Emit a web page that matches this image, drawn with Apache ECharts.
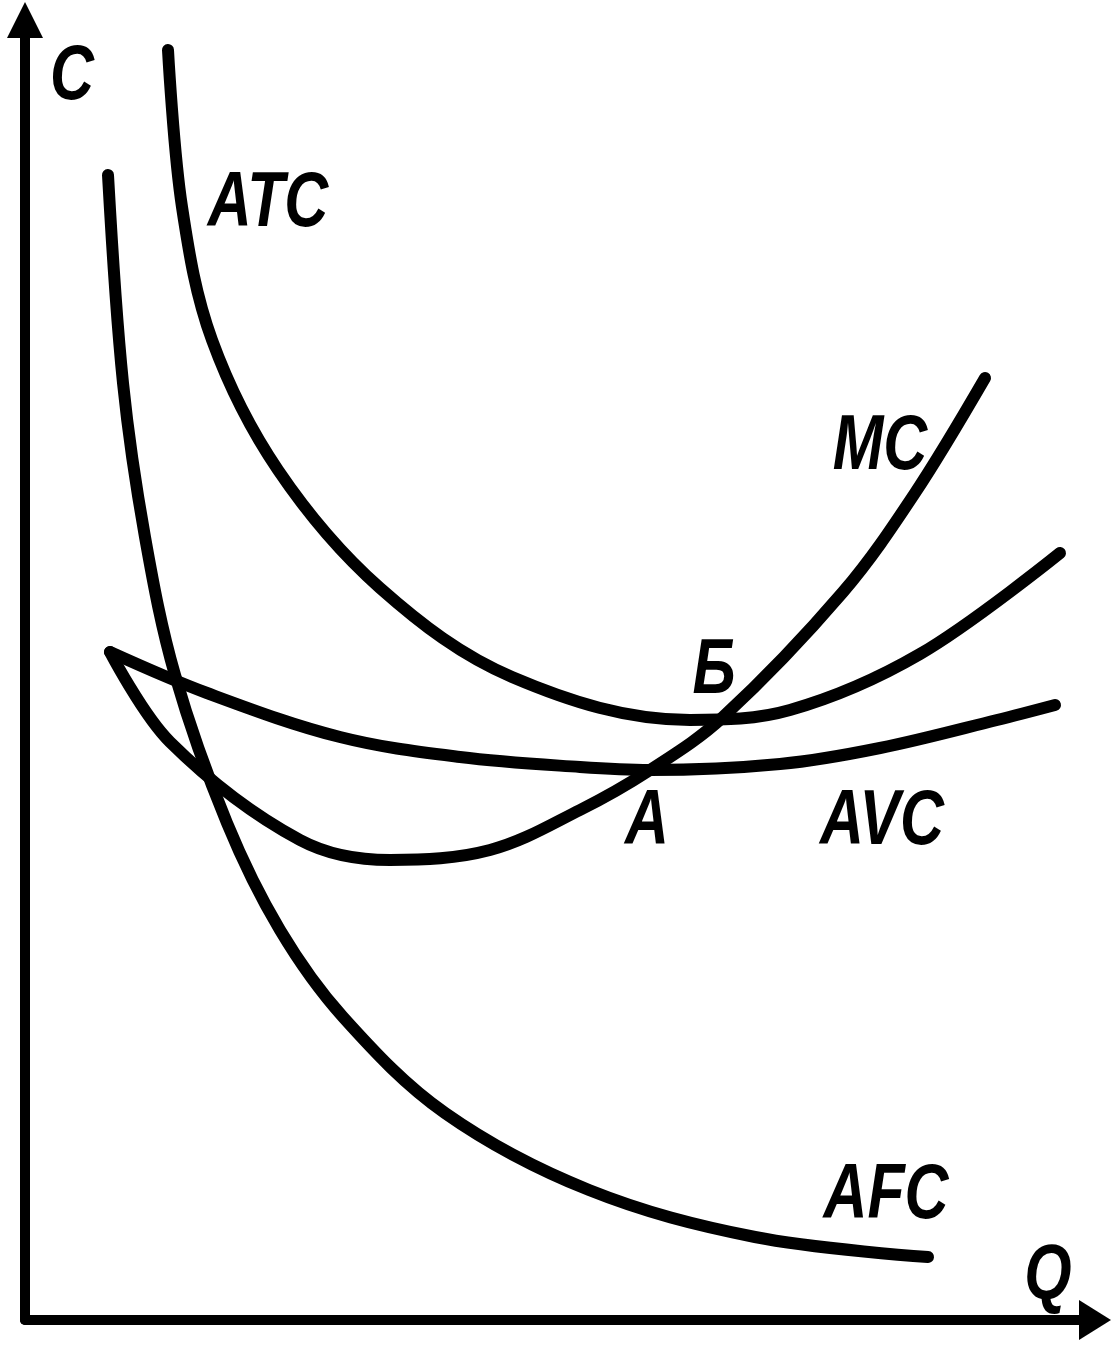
<!DOCTYPE html>
<html>
<head>
<meta charset="utf-8">
<script src="https://cdn.jsdelivr.net/npm/echarts@6/dist/echarts.min.js"></script>
<style>
  html, body { margin: 0; padding: 0; background: #fff; }
  #costChart { width: 1115px; height: 1354px; }
</style>
</head>
<body>
<div id="costChart"></div>
<script>
// кривые издержек, опорные точки [Q, C]
var atcData = [[14.3, 127], [15.7, 111.3], [18.7, 98], [25.3, 85], [35.5, 73.2], [48.7, 64.3],
  [66.5, 60], [76.5, 61], [89.5, 66.6], [103.5, 76.7]];

var mcData = [[8.5, 66.8], [14.5, 57.8], [27.5, 48], [36.5, 46], [46.5, 47],
  [55.5, 51], [62.5, 55], [69.8, 60.3], [81.8, 72.8], [89, 82.7], [96, 94.2]];

var avcData = [[8.5, 66.8], [18.2, 62.7], [31.5, 58.3], [43.5, 56.3], [55.5, 55.3], [62.5, 55],
  [75.5, 55.6], [85.5, 57.2], [97.2, 60], [103, 61.5]];

var afcData = [[8.3, 114.5], [9.8, 93.7], [12, 78.3], [15, 64.5], [20.2, 49.7], [25.5, 39],
  [31.8, 30.3], [42, 20.7], [56.4, 13], [73, 8.3], [90.3, 6.3]];

// подписи: [текст, Q, C]
var labels = [
  ["C", 4.7, 124.3],
  ["ATC", 24.3, 111.6],
  ["MC", 85.5, 87.3],
  ["Б", 68.9, 64.9],
  ["A", 62.2, 49.8],
  ["AVC", 85.7, 49.8],
  ["AFC", 86.1, 12.4],
  ["Q", 102.3, 4.3]
];

var curveStyle = { color: "#000", width: 12, cap: "round", join: "round" };

function curve(name, data) {
  return {
    name: name,
    type: "line",
    data: data,
    smooth: 0.35,
    showSymbol: false,
    silent: true,
    lineStyle: curveStyle
  };
}

var chart = echarts.init(document.getElementById("costChart"));
chart.setOption({
  animation: false,
  backgroundColor: "#fff",
  grid: { left: 25, right: 20, top: 20, bottom: 34 },
  xAxis: {
    type: "value",
    min: 0,
    max: 107,
    axisLine: {
      show: true,
      symbol: ["none", "triangle"],
      symbolSize: [40, 32],
      lineStyle: { color: "#000", width: 10 }
    },
    axisTick: { show: false },
    axisLabel: { show: false },
    splitLine: { show: false }
  },
  yAxis: {
    type: "value",
    min: 0,
    max: 130,
    axisLine: {
      show: true,
      symbol: ["none", "triangle"],
      symbolSize: [36, 36],
      lineStyle: { color: "#000", width: 10 }
    },
    axisTick: { show: false },
    axisLabel: { show: false },
    splitLine: { show: false }
  },
  series: [
    curve("ATC", atcData),
    curve("MC", mcData),
    curve("AVC", avcData),
    curve("AFC", afcData)
  ]
});

// подписи — узкий жирный курсив, как в учебнике; место берём из шкал графика
chart.setOption({
  graphic: labels.map(function (l) {
    var p = chart.convertToPixel({ gridIndex: 0 }, [l[1], l[2]]);
    return {
      type: "text",
      x: p[0],
      y: p[1],
      scaleX: 0.78,
      silent: true,
      style: {
        text: l[0],
        fill: "#000",
        fontFamily: "'Liberation Sans', Arial, sans-serif",
        fontWeight: "bold",
        fontStyle: "italic",
        fontSize: 78,
        align: "center",
        verticalAlign: "middle"
      }
    };
  })
});
</script>
</body>
</html>
